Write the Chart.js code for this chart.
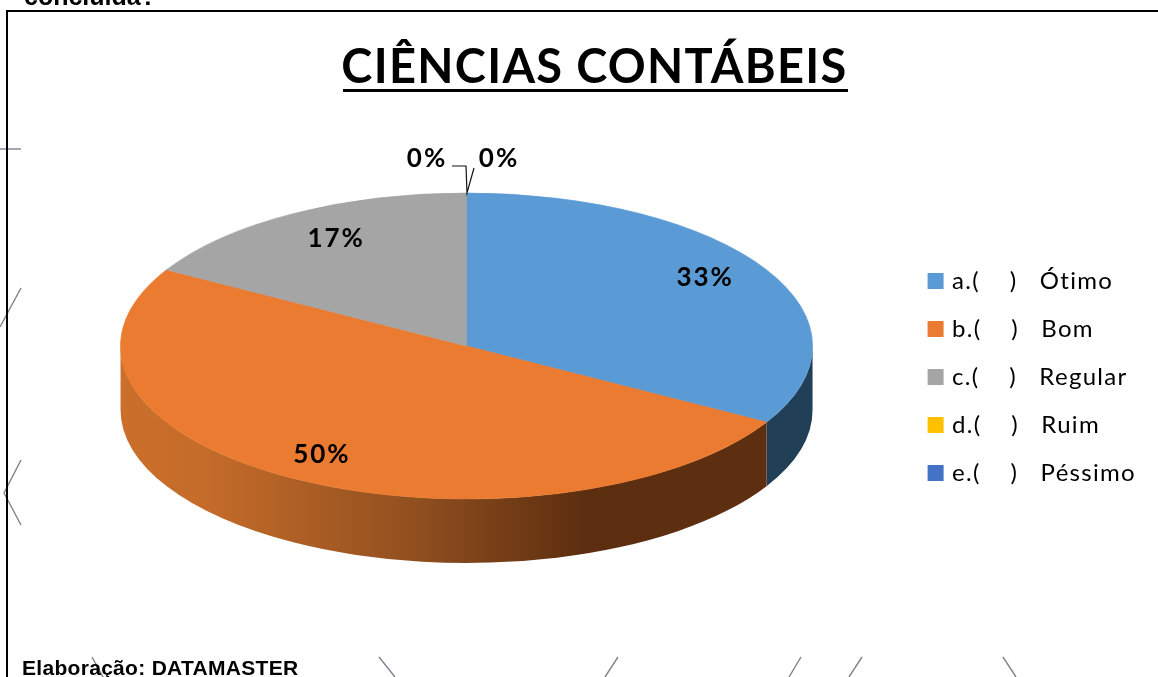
<!DOCTYPE html>
<html>
<head>
<meta charset="utf-8">
<title>Ciências Contábeis</title>
<script src="https://cdn.jsdelivr.net/npm/chart.js@4"></script>
<style>
    body { margin: 0; background: #fff; }
    canvas { display: block; }
</style>
</head>
<body>
<canvas id="pieChart" width="1158" height="677"></canvas>
<script>
// Chart data
const categories = ['a.(    )   Ótimo', 'b.(    )   Bom', 'c.(    )   Regular', 'd.(    )   Ruim', 'e.(    )   Péssimo'];
const percentages = [33.3, 50, 16.7, 0, 0];
const sliceColors = ['#5B9BD5', '#EA7B30', '#A5A5A5', '#FFC000', '#4472C4'];
const chartTitle = 'CIÊNCIAS CONTÁBEIS';

// Look of the tilted pie
const pieCenterY = 346;
const tilt = 0.442;
const depth = 64;
const labelNudge = [[-4, -6], [-5, 1], [10, 0]];

function toPageY(arc, y) {
    return pieCenterY + (y - arc.y) * tilt;
}

// Title and legend text are a bit wider in the original
const textSpacing = {
    id: 'textSpacing',
    beforeLayout(chart) {
        chart.ctx.letterSpacing = '1.3px';
    },
    beforeDraw(chart) {
        chart.ctx.letterSpacing = '1.3px';
    }
};

// Side wall of the pie, only the front half can be seen
const pieWalls = {
    id: 'pieWalls',
    beforeDatasetsDraw(chart) {
        const ctx = chart.ctx;
        const arcs = chart.getDatasetMeta(0).data;
        const left = arcs[0].x - arcs[0].outerRadius;
        const width = arcs[0].outerRadius * 2;

        const orangeWall = ctx.createLinearGradient(left, 0, left + width, 0);
        orangeWall.addColorStop(0, '#CB6F2B');
        orangeWall.addColorStop(0.12, '#C56C2A');
        orangeWall.addColorStop(0.42, '#92501F');
        orangeWall.addColorStop(0.67, '#5C2E10');
        orangeWall.addColorStop(1, '#5E2F10');
        const wallColors = ['#223F58', orangeWall, '#636363', '#997300', '#29447A'];

        arcs.forEach((arc, i) => {
            const start = Math.max(arc.startAngle, 0);
            const end = Math.min(arc.endAngle, Math.PI);
            if (end <= start) return;
            const ry = arc.outerRadius * tilt;
            ctx.beginPath();
            ctx.ellipse(arc.x, pieCenterY + depth, arc.outerRadius, ry, 0, start, end);
            ctx.ellipse(arc.x, pieCenterY, arc.outerRadius, ry, 0, end, start, true);
            ctx.closePath();
            ctx.fillStyle = wallColors[i];
            ctx.fill();
        });

        // The library draws a round pie, squash it here
        const y0 = arcs[0].y;
        ctx.save();
        ctx.translate(0, pieCenterY);
        ctx.scale(1, tilt);
        ctx.translate(0, -y0);
    },
    afterDatasetsDraw(chart) {
        chart.ctx.restore();
    }
};

// Percent labels and the two leader lines of the empty slices
const pieLabels = {
    id: 'pieLabels',
    afterDatasetsDraw(chart) {
        const ctx = chart.ctx;
        const arcs = chart.getDatasetMeta(0).data;
        ctx.save();
        ctx.font = 'bold 26px Lato';
        ctx.letterSpacing = '2px';
        ctx.fillStyle = '#000';
        ctx.textAlign = 'center';
        ctx.textBaseline = 'middle';
        arcs.forEach((arc, i) => {
            const text = Math.round(percentages[i]) + '%';
            if (percentages[i] > 0) {
                const mid = (arc.startAngle + arc.endAngle) / 2;
                const x = arc.x + Math.cos(mid) * arc.outerRadius * 0.81;
                const y = arc.y + Math.sin(mid) * arc.outerRadius * 0.81;
                ctx.fillText(text, x + labelNudge[i][0], toPageY(arc, y) + labelNudge[i][1]);
            } else {
                ctx.fillText(text, i === 3 ? 427 : 499, 159);
            }
        });
        ctx.strokeStyle = '#111';
        ctx.lineWidth = 1.2;
        ctx.beginPath();
        ctx.moveTo(452, 166);
        ctx.lineTo(466, 166);
        ctx.lineTo(467, 193);
        ctx.lineTo(474, 168);
        ctx.stroke();
        ctx.restore();
    }
};

// Page around the chart: frame, cut off text, stray lines, underline of the title
const pageDecor = {
    id: 'pageDecor',
    beforeDraw(chart) {
        const ctx = chart.ctx;
        ctx.save();
        ctx.strokeStyle = '#7E838F';
        ctx.lineWidth = 1.4;
        const strayLines = [
            [[0, 149], [21, 149]],
            [[21, 288], [0, 327]],
            [[21, 460], [4, 493], [21, 525]],
            [[92, 657], [103, 677]],
            [[379, 657], [395, 677]],
            [[618, 657], [605, 677]],
            [[801, 657], [789, 677]],
            [[862, 657], [849, 677]],
            [[1003, 657], [1016, 677]]
        ];
        strayLines.forEach(points => {
            ctx.beginPath();
            points.forEach((p, i) => i ? ctx.lineTo(p[0], p[1]) : ctx.moveTo(p[0], p[1]));
            ctx.stroke();
        });
        ctx.restore();
    },
    afterDraw(chart) {
        const ctx = chart.ctx;
        ctx.save();
        ctx.fillStyle = '#000';
        ctx.fillRect(6, 10, 2, 667);
        ctx.fillRect(6, 10, 1152, 2);
        ctx.fillRect(343, 89, 505, 3);
        ctx.textBaseline = 'alphabetic';
        ctx.letterSpacing = '0px';
        ctx.font = 'bold 25px "Liberation Sans"';
        ctx.fillText('concluída?', 24, 5);
        ctx.letterSpacing = '0.3px';
        ctx.font = 'bold 21px "Liberation Sans"';
        ctx.fillText('Elaboração: DATAMASTER', 22, 675);
        ctx.restore();
    }
};

new Chart(document.getElementById('pieChart').getContext('2d'), {
    type: 'pie',
    plugins: [textSpacing, pageDecor, pieWalls, pieLabels],
    data: {
        labels: categories,
        datasets: [{
            data: percentages,
            backgroundColor: sliceColors,
            borderColor: sliceColors,
            borderWidth: [1, 1, 1, 0, 0],
            radius: 346,
            clip: false
        }]
    },
    options: {
        responsive: false,
        animation: false,
        layout: { padding: { left: 26, right: 12, top: 0, bottom: 18 } },
        plugins: {
            tooltip: { enabled: false },
            title: {
                display: true,
                // leading spaces push the title right, it is not centred on the page
                text: ' \u200A' + chartTitle,
                color: '#000',
                font: { family: 'Lato', size: 47, weight: 'bold', lineHeight: 1.15 },
                padding: { top: 41, bottom: 0 }
            },
            legend: {
                position: 'right',
                fullSize: false,
                labels: {
                    color: '#262626',
                    font: { family: 'Lato', size: 24 },
                    boxWidth: 9,
                    boxHeight: 9,
                    padding: 24,
                    generateLabels(chart) {
                        return categories.map((text, i) => ({
                            text: text,
                            fillStyle: sliceColors[i],
                            strokeStyle: sliceColors[i],
                            lineWidth: 7,
                            index: i
                        }));
                    }
                }
            }
        }
    }
});
</script>
</body>
</html>
